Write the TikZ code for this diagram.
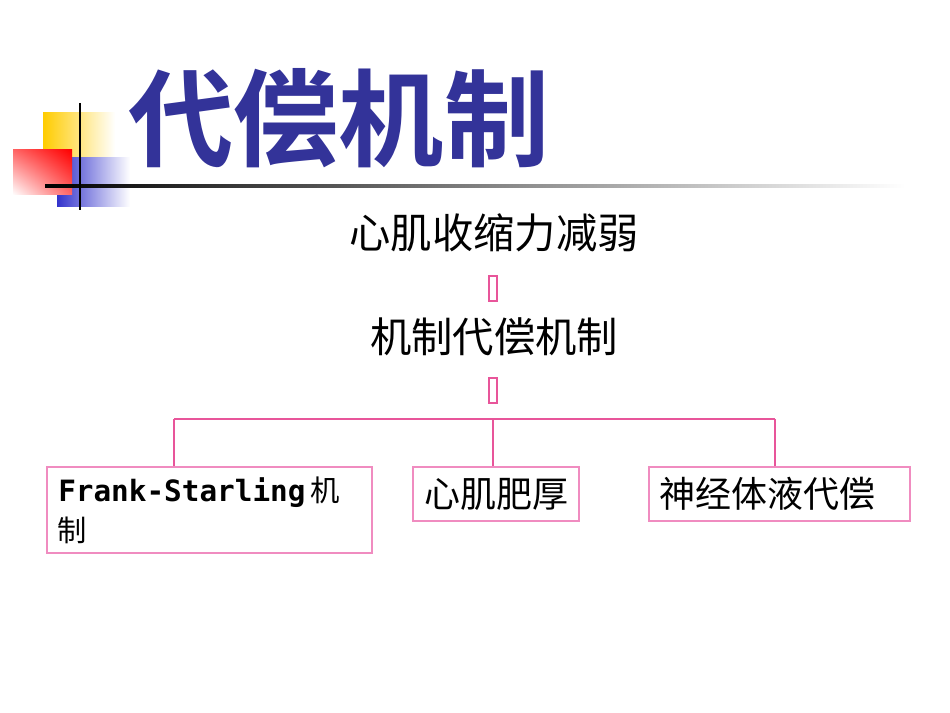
\documentclass[tikz,border=0pt]{standalone}
\usepackage{fontspec}
\usetikzlibrary{shadings}
\newfontfamily\cjk{Noto Sans CJK SC}
\newfontfamily\cjkb{Noto Sans CJK SC Bold}
\newfontfamily\mono{DejaVu Sans Mono Bold}
\definecolor{ttl}{HTML}{333399}
\definecolor{lnk}{HTML}{E8559A}
\definecolor{bord}{HTML}{F08CC0}
\definecolor{gold}{HTML}{FFCC00}
\definecolor{lblue}{HTML}{3333CC}
\begin{document}
\begin{tikzpicture}[x=0.75pt,y=-0.75pt,
  box/.style={draw=bord,line width=1pt},
  conn/.style={draw=lnk,line width=1.2pt},
  tofu/.style={draw=lnk,line width=1.5pt}]
\useasboundingbox (0,0) rectangle (950,713);
% logo
\shade[left color=gold,right color=white] (43,113) rectangle (115,180);
\shade[left color=lblue,right color=white] (57,158) rectangle (130,207);
\shade[lower left=white,upper right=red,upper left=red!60,lower right=red!60] (13,150) rectangle (72,195);
\shade[left color=black,right color=white] (45,185) rectangle (905,188);
\draw[black,line width=1.5pt] (80,103) -- (80,210);
\node[anchor=west,text=ttl,font=\cjkb\fontsize{79pt}{80pt}\selectfont,inner sep=0] (title) at (128,118) {代偿机制};
% text
\node[font=\cjk\fontsize{31pt}{33pt}\selectfont,inner sep=0] (t1) at (494,233) {心肌收缩力减弱};
\draw[tofu] (489,276) rectangle (497,301);
\node[font=\cjk\fontsize{31pt}{33pt}\selectfont,inner sep=0] (t2) at (494,337) {机制代偿机制};
\draw[tofu] (489,378) rectangle (497,403);
% boxes
\node[box,minimum width=325*0.75pt,minimum height=86*0.75pt,inner sep=0] (b1) at (209.5,510) {};
\node[box,minimum width=166*0.75pt,minimum height=54*0.75pt,inner sep=0] (b2) at (496,494) {};
\node[box,minimum width=261*0.75pt,minimum height=54*0.75pt,inner sep=0] (b3) at (779.5,494) {};
\node[anchor=west,inner sep=0] (l1) at (58,492) {\mono\fontsize{22pt}{24pt}\selectfont Frank-Starling\,\cjk 机};
\node[anchor=west,inner sep=0,font=\cjk\fontsize{22pt}{24pt}\selectfont] (l2) at (57,530) {制};
\node[font=\cjk\fontsize{27pt}{29pt}\selectfont,inner sep=0] (l3) at (496,494) {心肌肥厚};
\node[anchor=west,font=\cjk\fontsize{27pt}{29pt}\selectfont,inner sep=0] (l4) at (659,494) {神经体液代偿};
% connectors
\coordinate (hl) at (174,419);
\coordinate (hr) at (775,419);
\coordinate (hm) at (493,419);
\draw[conn] (hl) -- (hr);
\draw[conn] (hl) -- (hl |- b1.north);
\draw[conn] (hm) -- (hm |- b2.north);
\draw[conn] (hr) -- (hr |- b3.north);
\end{tikzpicture}
\end{document}
